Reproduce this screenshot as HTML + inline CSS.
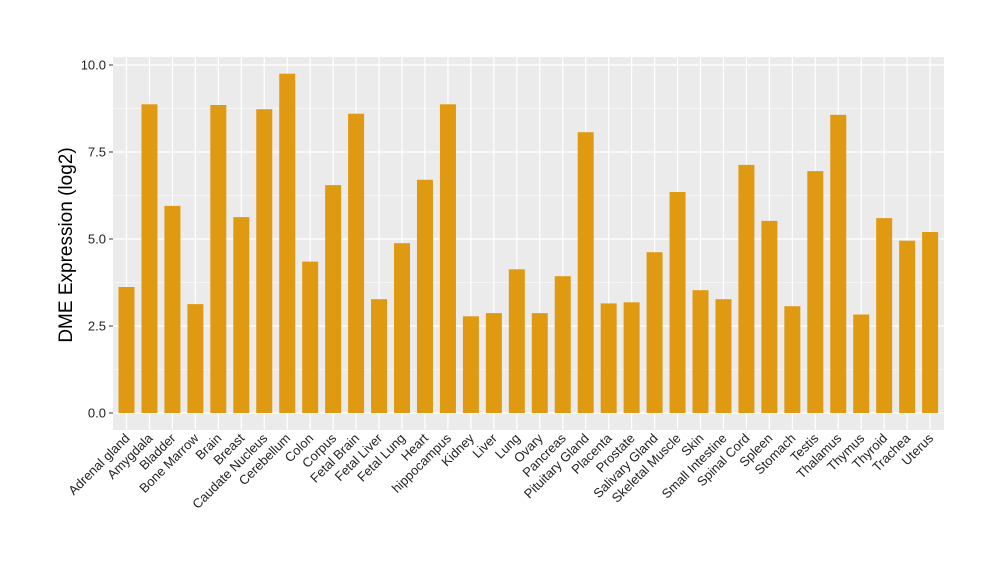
<!DOCTYPE html>
<html><head><meta charset="utf-8"><style>body{margin:0;background:#fff}svg{display:block}text{font-family:"Liberation Sans",sans-serif}</style></head><body>
<svg width="1000" height="580" xmlns="http://www.w3.org/2000/svg">
<rect x="113" y="57" width="831" height="373" fill="#EBEBEB"/>
<g stroke="#fff" stroke-width="0.6">
<line x1="113" x2="944" y1="108.5" y2="108.5"/><line x1="113" x2="944" y1="195.5" y2="195.5"/><line x1="113" x2="944" y1="282.5" y2="282.5"/><line x1="113" x2="944" y1="369.5" y2="369.5"/>
</g>
<g stroke="#fff" stroke-width="1.2">
<line x1="113" x2="944" y1="65" y2="65"/><line x1="113" x2="944" y1="152" y2="152"/><line x1="113" x2="944" y1="239" y2="239"/><line x1="113" x2="944" y1="326" y2="326"/><line x1="113" x2="944" y1="413" y2="413"/>
<line x1="126.5" x2="126.5" y1="57" y2="430"/><line x1="149.46" x2="149.46" y1="57" y2="430"/><line x1="172.42" x2="172.42" y1="57" y2="430"/><line x1="195.38" x2="195.38" y1="57" y2="430"/><line x1="218.34" x2="218.34" y1="57" y2="430"/><line x1="241.3" x2="241.3" y1="57" y2="430"/><line x1="264.26" x2="264.26" y1="57" y2="430"/><line x1="287.22" x2="287.22" y1="57" y2="430"/><line x1="310.18" x2="310.18" y1="57" y2="430"/><line x1="333.14" x2="333.14" y1="57" y2="430"/><line x1="356.1" x2="356.1" y1="57" y2="430"/><line x1="379.06" x2="379.06" y1="57" y2="430"/><line x1="402.02" x2="402.02" y1="57" y2="430"/><line x1="424.98" x2="424.98" y1="57" y2="430"/><line x1="447.94" x2="447.94" y1="57" y2="430"/><line x1="470.9" x2="470.9" y1="57" y2="430"/><line x1="493.86" x2="493.86" y1="57" y2="430"/><line x1="516.82" x2="516.82" y1="57" y2="430"/><line x1="539.78" x2="539.78" y1="57" y2="430"/><line x1="562.74" x2="562.74" y1="57" y2="430"/><line x1="585.7" x2="585.7" y1="57" y2="430"/><line x1="608.66" x2="608.66" y1="57" y2="430"/><line x1="631.62" x2="631.62" y1="57" y2="430"/><line x1="654.58" x2="654.58" y1="57" y2="430"/><line x1="677.54" x2="677.54" y1="57" y2="430"/><line x1="700.5" x2="700.5" y1="57" y2="430"/><line x1="723.46" x2="723.46" y1="57" y2="430"/><line x1="746.42" x2="746.42" y1="57" y2="430"/><line x1="769.38" x2="769.38" y1="57" y2="430"/><line x1="792.34" x2="792.34" y1="57" y2="430"/><line x1="815.3" x2="815.3" y1="57" y2="430"/><line x1="838.26" x2="838.26" y1="57" y2="430"/><line x1="861.22" x2="861.22" y1="57" y2="430"/><line x1="884.18" x2="884.18" y1="57" y2="430"/><line x1="907.14" x2="907.14" y1="57" y2="430"/><line x1="930.1" x2="930.1" y1="57" y2="430"/>
</g>
<g fill="#E09A12">
<rect x="118.5" y="287.0" width="16" height="126.0"/><rect x="141.46" y="104.3" width="16" height="308.7"/><rect x="164.42" y="205.9" width="16" height="207.1"/><rect x="187.38" y="304.1" width="16" height="108.9"/><rect x="210.34" y="105.0" width="16" height="308.0"/><rect x="233.3" y="217.1" width="16" height="195.9"/><rect x="256.26" y="109.2" width="16" height="303.8"/><rect x="279.22" y="73.7" width="16" height="339.3"/><rect x="302.18" y="261.6" width="16" height="151.4"/><rect x="325.14" y="185.1" width="16" height="227.9"/><rect x="348.1" y="113.7" width="16" height="299.3"/><rect x="371.06" y="299.2" width="16" height="113.8"/><rect x="394.02" y="243.2" width="16" height="169.8"/><rect x="416.98" y="179.8" width="16" height="233.2"/><rect x="439.94" y="104.3" width="16" height="308.7"/><rect x="462.9" y="316.3" width="16" height="96.7"/><rect x="485.86" y="313.1" width="16" height="99.9"/><rect x="508.82" y="269.3" width="16" height="143.7"/><rect x="531.78" y="313.1" width="16" height="99.9"/><rect x="554.74" y="276.2" width="16" height="136.8"/><rect x="577.7" y="132.2" width="16" height="280.8"/><rect x="600.66" y="303.4" width="16" height="109.6"/><rect x="623.62" y="302.3" width="16" height="110.7"/><rect x="646.58" y="252.2" width="16" height="160.8"/><rect x="669.54" y="192.0" width="16" height="221.0"/><rect x="692.5" y="290.2" width="16" height="122.8"/><rect x="715.46" y="299.2" width="16" height="113.8"/><rect x="738.42" y="164.9" width="16" height="248.1"/><rect x="761.38" y="220.9" width="16" height="192.1"/><rect x="784.34" y="306.2" width="16" height="106.8"/><rect x="807.3" y="171.1" width="16" height="241.9"/><rect x="830.26" y="114.8" width="16" height="298.2"/><rect x="853.22" y="314.5" width="16" height="98.5"/><rect x="876.18" y="218.1" width="16" height="194.9"/><rect x="899.14" y="240.7" width="16" height="172.3"/><rect x="922.1" y="232.0" width="16" height="181.0"/>
</g>
<g stroke="#333" stroke-width="1">
<line x1="109" x2="113" y1="65" y2="65"/><line x1="109" x2="113" y1="152" y2="152"/><line x1="109" x2="113" y1="239" y2="239"/><line x1="109" x2="113" y1="326" y2="326"/><line x1="109" x2="113" y1="413" y2="413"/>
</g>
<g font-size="13" fill="#222" text-anchor="end">
<text x="106" y="69.5">10.0</text><text x="106" y="156.5">7.5</text><text x="106" y="243.5">5.0</text><text x="106" y="330.5">2.5</text><text x="106" y="417.5">0.0</text>
</g>
<text transform="translate(72,245) rotate(-90)" font-size="19" text-anchor="middle" fill="#000">DME Expression (log2)</text>
<g font-size="13" fill="#222" text-anchor="end">
<text transform="translate(130.5,439) rotate(-45)">Adrenal gland</text>
<text transform="translate(153.46,439) rotate(-45)">Amygdala</text>
<text transform="translate(176.42,439) rotate(-45)">Bladder</text>
<text transform="translate(199.38,439) rotate(-45)">Bone Marrow</text>
<text transform="translate(222.34,439) rotate(-45)">Brain</text>
<text transform="translate(245.3,439) rotate(-45)">Breast</text>
<text transform="translate(268.26,439) rotate(-45)">Caudate Nucleus</text>
<text transform="translate(291.22,439) rotate(-45)">Cerebellum</text>
<text transform="translate(314.18,439) rotate(-45)">Colon</text>
<text transform="translate(337.14,439) rotate(-45)">Corpus</text>
<text transform="translate(360.1,439) rotate(-45)">Fetal Brain</text>
<text transform="translate(383.06,439) rotate(-45)">Fetal Liver</text>
<text transform="translate(406.02,439) rotate(-45)">Fetal Lung</text>
<text transform="translate(428.98,439) rotate(-45)">Heart</text>
<text transform="translate(451.94,439) rotate(-45)">hippocampus</text>
<text transform="translate(474.9,439) rotate(-45)">Kidney</text>
<text transform="translate(497.86,439) rotate(-45)">Liver</text>
<text transform="translate(520.82,439) rotate(-45)">Lung</text>
<text transform="translate(543.78,439) rotate(-45)">Ovary</text>
<text transform="translate(566.74,439) rotate(-45)">Pancreas</text>
<text transform="translate(589.7,439) rotate(-45)">Pituitary Gland</text>
<text transform="translate(612.66,439) rotate(-45)">Placenta</text>
<text transform="translate(635.62,439) rotate(-45)">Prostate</text>
<text transform="translate(658.58,439) rotate(-45)">Salivary Gland</text>
<text transform="translate(681.54,439) rotate(-45)">Skeletal Muscle</text>
<text transform="translate(704.5,439) rotate(-45)">Skin</text>
<text transform="translate(727.46,439) rotate(-45)">Small Intestine</text>
<text transform="translate(750.42,439) rotate(-45)">Spinal Cord</text>
<text transform="translate(773.38,439) rotate(-45)">Spleen</text>
<text transform="translate(796.34,439) rotate(-45)">Stomach</text>
<text transform="translate(819.3,439) rotate(-45)">Testis</text>
<text transform="translate(842.26,439) rotate(-45)">Thalamus</text>
<text transform="translate(865.22,439) rotate(-45)">Thymus</text>
<text transform="translate(888.18,439) rotate(-45)">Thyroid</text>
<text transform="translate(911.14,439) rotate(-45)">Trachea</text>
<text transform="translate(934.1,439) rotate(-45)">Uterus</text>
</g>
</svg>
</body></html>
